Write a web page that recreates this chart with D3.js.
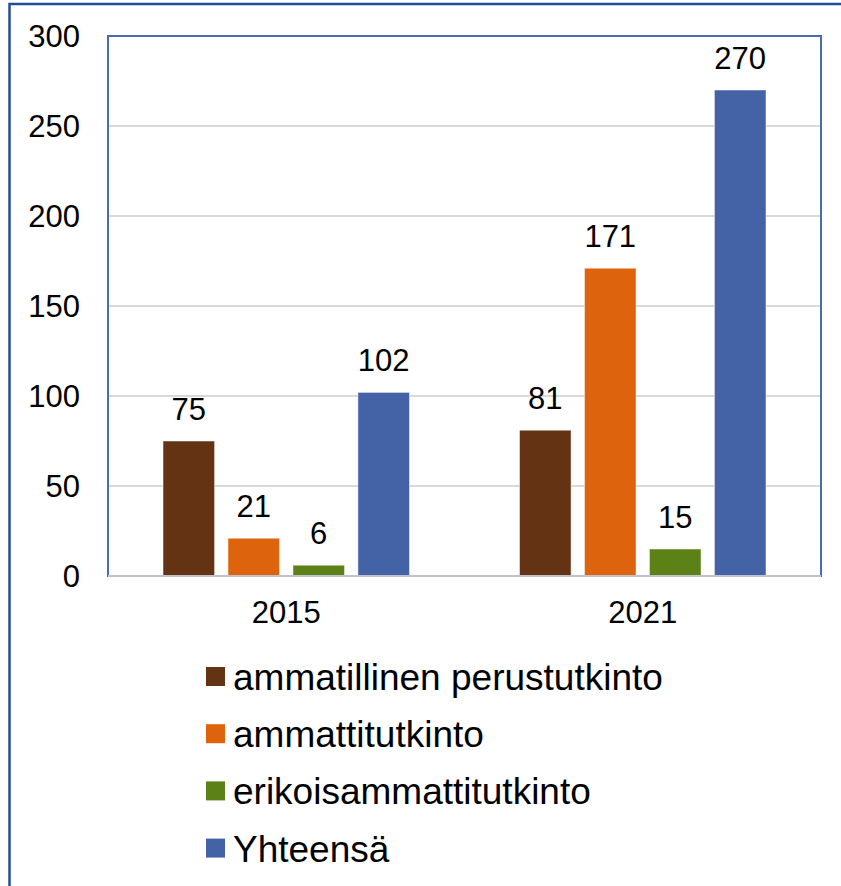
<!DOCTYPE html>
<html><head><meta charset="utf-8">
<script src="https://cdn.jsdelivr.net/npm/d3@7"></script>
<style>body{margin:0;background:#fff}svg{display:block}text{font-family:"Liberation Sans",Arial,sans-serif;fill:#000}</style>
</head><body>
<script>
const years = ["2015", "2021"];
const seriesNames = ["ammatillinen perustutkinto", "ammattitutkinto", "erikoisammattitutkinto", "Yhteensä"];
const seriesColors = ["#633313", "#dd640c", "#5b8117", "#4462a6"];
const values2015 = [75, 21, 6, 102];
const values2021 = [81, 171, 15, 270];
const yTicks = [0, 50, 100, 150, 200, 250, 300];

const valuesByYear = {"2015": values2015, "2021": values2021};
const W = 841, H = 886;
const plot = {left: 108, right: 821, top: 36, bottom: 576};

const svg = d3.select("body").append("svg").attr("width", W).attr("height", H);

// outer frame
svg.append("rect").attr("x", 9.5).attr("y", 4).attr("width", W + 10).attr("height", H + 10)
  .attr("fill", "none").attr("stroke", "#1f4e9a").attr("stroke-width", 2.5);

const y = d3.scaleLinear().domain([0, 300]).range([plot.bottom, plot.top]);
const x0 = d3.scaleBand().domain(years).range([plot.left, plot.right]).padding(0);
const x1 = d3.scaleBand().domain(seriesNames).range([55, x0.bandwidth() - 55]).paddingInner(0.206).paddingOuter(0);

// gridlines
svg.append("g").selectAll("line").data(yTicks.filter(t => t > 0 && t < 300)).join("line")
  .attr("x1", plot.left).attr("x2", plot.right)
  .attr("y1", d => y(d)).attr("y2", d => y(d))
  .attr("stroke", "#d9d9d9").attr("stroke-width", 2);

// y labels
const yAxis = d3.axisLeft(y).tickValues(yTicks).tickSize(0).tickPadding(0);
const yg = svg.append("g").attr("transform", "translate(80,0)").call(yAxis);
yg.select(".domain").remove();
yg.selectAll("text").attr("font-size", 31).attr("dy", "0.34em")
  .style("font-family", '"Liberation Sans",Arial,sans-serif').attr("fill", "#000");

// bars
const groups = svg.append("g").selectAll("g").data(years).join("g")
  .attr("transform", d => `translate(${x0(d)},0)`);
groups.selectAll("rect").data(yr => valuesByYear[yr].map((v, i) => ({name: seriesNames[i], v, i})))
  .join("rect")
  .attr("x", d => x1(d.name)).attr("width", x1.bandwidth())
  .attr("y", d => y(d.v)).attr("height", d => y(0) - y(d.v))
  .attr("fill", d => seriesColors[d.i])
  .attr("stroke", "#ffffff").attr("stroke-opacity", 0.5).attr("stroke-width", 1);
groups.selectAll("text.val").data(yr => valuesByYear[yr].map((v, i) => ({name: seriesNames[i], v, i})))
  .join("text").attr("class", "val")
  .attr("x", d => x1(d.name) + x1.bandwidth() / 2)
  .attr("y", d => y(d.v) - 21)
  .attr("text-anchor", "middle").attr("font-size", 31)
  .text(d => d.v);

// plot border
svg.append("rect").attr("x", plot.left).attr("y", plot.top)
  .attr("width", plot.right - plot.left).attr("height", plot.bottom - plot.top)
  .attr("fill", "none").attr("stroke", "#4a6ab4").attr("stroke-width", 2);
// x axis line
svg.append("line").attr("x1", plot.left).attr("x2", plot.right)
  .attr("y1", plot.bottom).attr("y2", plot.bottom)
  .attr("stroke", "#bfc3cf").attr("stroke-width", 2);

// x labels
const xAxis = d3.axisBottom(x0).tickSize(0).tickPadding(0);
const xg = svg.append("g").attr("transform", `translate(0,${plot.bottom})`).call(xAxis);
xg.select(".domain").remove();
xg.selectAll("text").attr("font-size", 31).attr("dy", null).attr("y", 47)
  .style("font-family", '"Liberation Sans",Arial,sans-serif').attr("fill", "#000");

// legend
const lg = svg.append("g").selectAll("g").data(seriesNames).join("g")
  .attr("transform", (d, i) => `translate(206,${690 + i * 57.2})`);
lg.append("rect").attr("x", 0).attr("y", -23).attr("width", 19).attr("height", 19)
  .attr("fill", (d, i) => seriesColors[i]);
lg.append("text").attr("x", 27).attr("y", 0).attr("font-size", 37).text(d => d);
</script>
</body></html>
